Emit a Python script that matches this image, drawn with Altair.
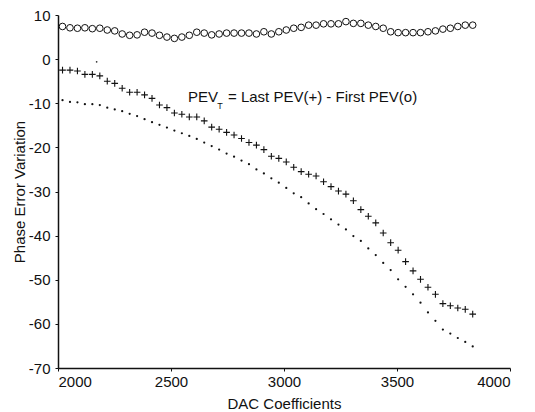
import altair as alt
import pandas as pd

# DAC coefficient positions of the measurements
dac = [2020, 2053, 2086, 2119, 2152, 2185, 2218, 2251, 2284, 2317, 2350, 2383,
       2416, 2449, 2482, 2515, 2548, 2581, 2614, 2647, 2680, 2713, 2746, 2779,
       2812, 2845, 2878, 2911, 2944, 2977, 3010, 3043, 3076, 3109, 3142, 3175,
       3208, 3241, 3274, 3307, 3340, 3373, 3406, 3439, 3472, 3505, 3538, 3571,
       3604, 3637, 3670, 3703, 3736, 3769, 3802, 3835]

# PEV_T (circles)
pev_t = [7.4, 7.1, 7.0, 7.1, 6.9, 7.0, 6.6, 6.4, 5.7, 5.4, 5.5, 6.1,
         5.9, 5.4, 5.0, 4.7, 5.0, 5.4, 6.1, 5.9, 5.5, 5.7, 5.9, 5.9,
         5.9, 5.9, 5.7, 6.2, 5.7, 6.2, 6.6, 7.0, 7.2, 7.7, 7.7, 8.0,
         8.0, 8.0, 8.5, 8.1, 8.1, 7.7, 7.4, 7.0, 6.2, 6.0, 6.0, 6.0,
         6.0, 6.2, 6.4, 6.8, 7.0, 7.4, 7.7, 7.7]

# Last PEV (+)
pev_last = [-2.5, -2.5, -2.7, -3.45, -3.45, -3.8, -5.0, -5.5, -6.6, -7.5, -7.5, -8.1,
            -8.9, -10.4, -11.0, -12.2, -12.5, -13.1, -13.1, -14.0, -15.4, -15.9, -16.6, -17.2,
            -18.0, -18.9, -19.5, -20.5, -22.0, -22.5, -23.3, -24.5, -25.5, -26.1, -26.5, -27.8,
            -28.9, -29.9, -30.6, -32.1, -34.1, -35.6, -37.1, -39.4, -41.6, -43.3, -45.9, -48.0,
            -49.9, -51.7, -53.3, -55.4, -55.9, -56.4, -56.7, -57.8]

# First PEV (dots)
pev_first = [-9.3, -9.7, -9.8, -10.2, -10.2, -10.4, -11.0, -11.4, -11.8, -12.4, -12.9, -13.6,
             -14.3, -14.9, -15.5, -16.2, -16.8, -17.4, -18.1, -18.9, -19.7, -20.5, -21.4, -22.1,
             -23.0, -23.8, -25.0, -25.9, -27.0, -28.0, -29.2, -30.4, -31.3, -32.7, -34.0, -35.1,
             -36.3, -37.5, -38.6, -40.1, -41.2, -42.9, -44.4, -46.2, -47.8, -49.9, -51.6, -53.3,
             -55.2, -57.4, -59.3, -61.3, -62.2, -63.2, -64.1, -65.1]

# a stray point in the original
stray_x = [2171]
stray_y = [-0.6]

# annotation
ann_text = ["PEV", "T", "= Last PEV(+) - First PEV(o)"]
ann_x = [2575, 2705, 2752]
ann_y = [-8.6, -10.7, -8.6]
ann_size = [15, 9, 15]

df = pd.DataFrame({"dac": dac, "pev_t": pev_t, "last": pev_last, "first": pev_first})
stray = pd.DataFrame({"dac": stray_x, "v": stray_y})
ann = pd.DataFrame({"t": ann_text, "x": ann_x, "y": ann_y, "s": ann_size})

xs = alt.Scale(domain=[2000, 4000], nice=False)
ys = alt.Scale(domain=[-70, 10], nice=False)
xax = alt.Axis(values=[2000, 2500, 3000, 3500, 4000], title="DAC Coefficients",
               labelExpr="'' + datum.value",
               grid=False, tickSize=3, labelPadding=3,
               titleY=35, titleBaseline="middle")
yax = alt.Axis(values=list(range(-70, 11, 10)), title="Phase Error Variation",
               labelExpr="'' + datum.value",
               grid=False, tickSize=3, labelPadding=5,
               titleX=-39, titleBaseline="middle")

base = alt.Chart(df)
circles = base.mark_point(shape="circle", filled=False, size=44, strokeWidth=1,
                          color="#111", opacity=1).encode(
    x=alt.X("dac:Q", scale=xs, axis=xax),
    y=alt.Y("pev_t:Q", scale=ys, axis=yax),
)
plus = base.mark_point(shape="M-1,0L1,0M0,-1L0,1", filled=False, size=44,
                       strokeWidth=1.1, color="#111", opacity=1).encode(
    x=alt.X("dac:Q", scale=xs), y=alt.Y("last:Q", scale=ys))
dots = base.mark_circle(size=5, color="#111", opacity=1).encode(
    x=alt.X("dac:Q", scale=xs), y=alt.Y("first:Q", scale=ys))
strays = alt.Chart(stray).mark_circle(size=3, color="#333", opacity=1).encode(
    x=alt.X("dac:Q", scale=xs), y=alt.Y("v:Q", scale=ys))
text = alt.Chart(ann).mark_text(align="left", baseline="middle", font="Liberation Sans",
                                color="#111").encode(
    x=alt.X("x:Q", scale=xs), y=alt.Y("y:Q", scale=ys), text="t:N",
    size=alt.Size("s:Q", scale=None, legend=None))

chart = alt.layer(circles, plus, dots, strays, text).properties(
    width=452, height=353,
    autosize=alt.AutoSizeParams(type="none"),
    padding={"left": 50, "top": 7, "right": 17, "bottom": 44},
).configure_view(stroke=None).configure_axis(
    domainColor="#111", domainWidth=1.5, tickColor="#111",
    labelColor="#111", titleColor="#111",
    labelFont="Liberation Sans", titleFont="Liberation Sans",
    labelFontSize=15, titleFontSize=15, titleFontWeight="normal",
)

chart.save("out.html", embed_options={"renderer": "svg", "actions": False})
